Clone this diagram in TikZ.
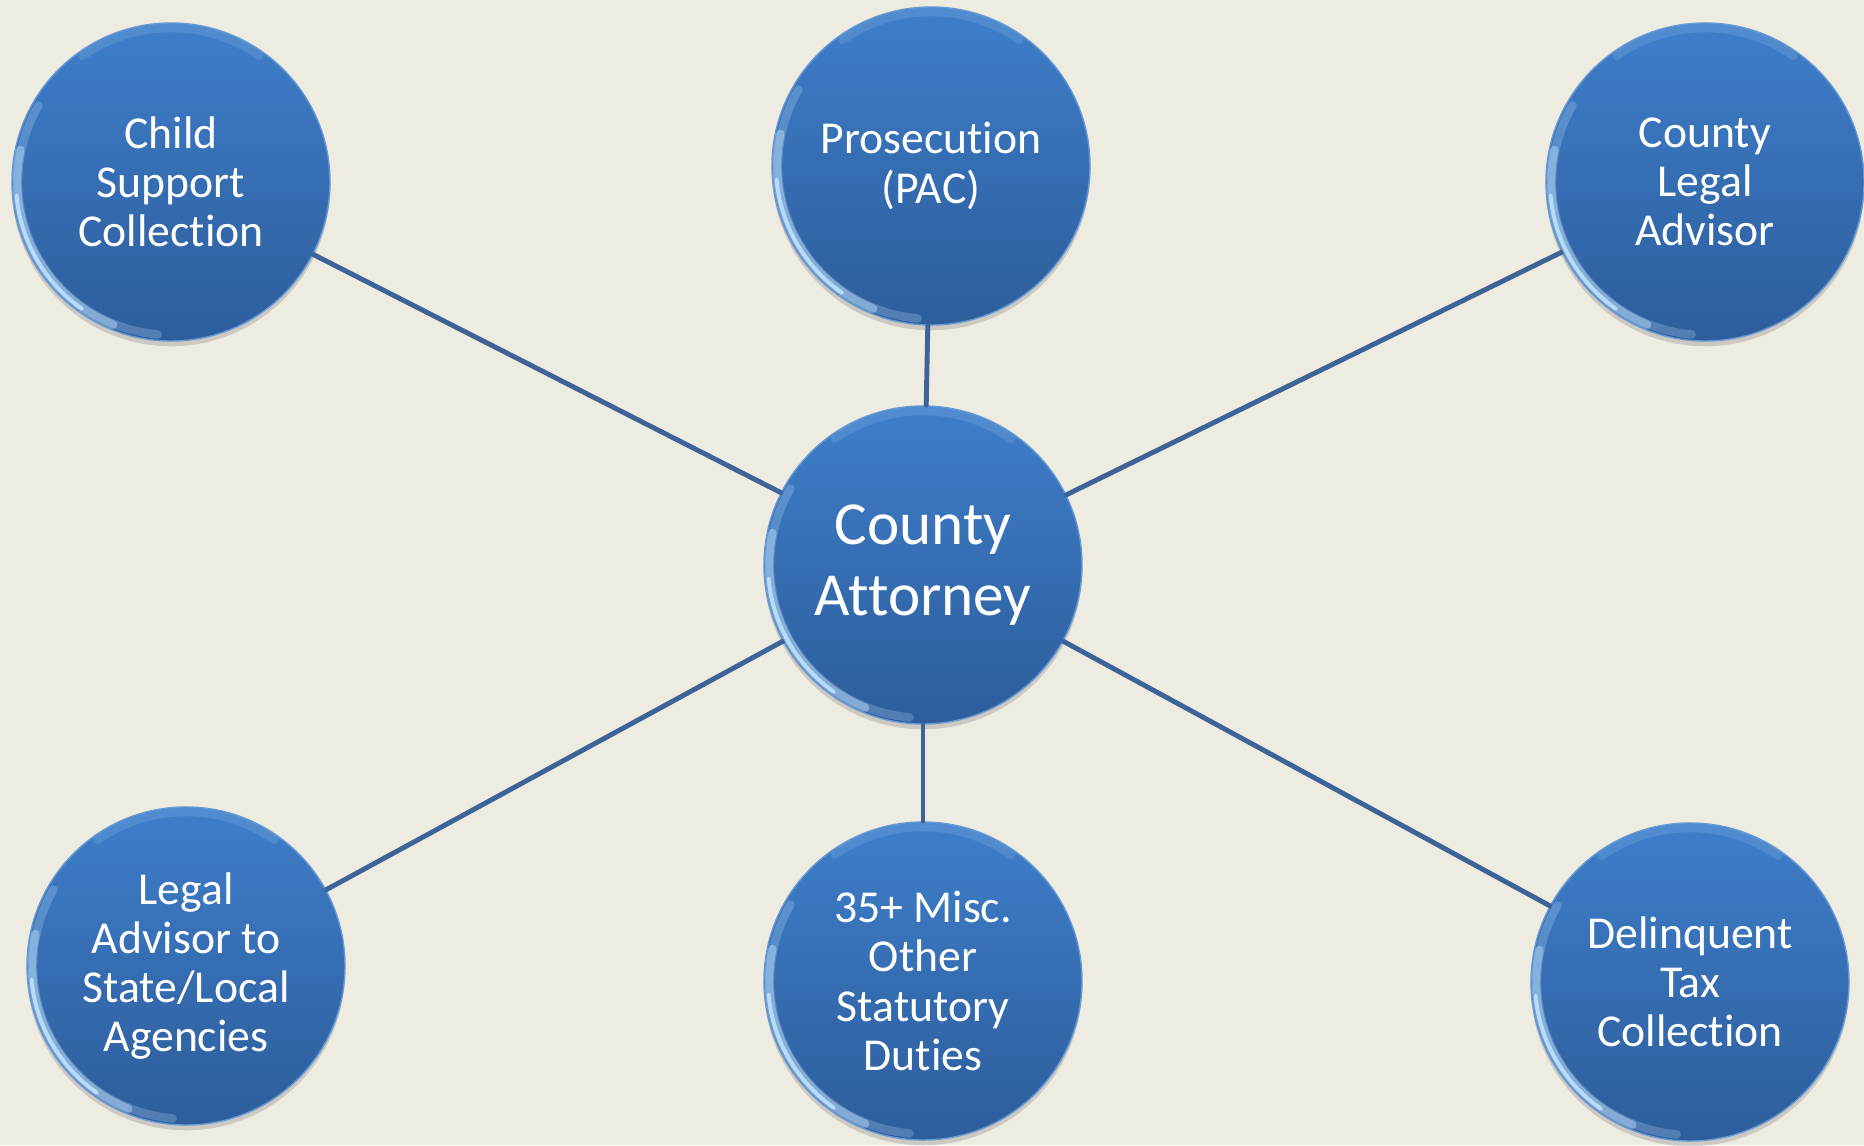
\documentclass[tikz,border=0pt]{standalone}
\usepackage{fontspec}
\setmainfont{Carlito}[Ligatures=NoCommon]
\usepackage{tikz}
\usetikzlibrary{shadows}

\definecolor{paper}{RGB}{238,235,224}
\definecolor{balltop}{RGB}{62,126,202}
\definecolor{ballbot}{RGB}{45,93,155}
\definecolor{spoke}{RGB}{60,100,152}
\definecolor{rimlight}{RGB}{190,225,252}

\begin{document}
\begin{tikzpicture}[line cap=round, line join=round,
    ball/.style={circle, minimum size=3.18cm, inner sep=0pt,
      top color=balltop, bottom color=ballbot, draw=balltop!80!white,
      line width=0.4pt, text=white, align=center,
      font=\fontsize{13}{14}\selectfont,
      drop shadow={shadow xshift=0pt, shadow yshift=-1.5pt,
        opacity=0.25, fill=black!60}},
    bigball/.style={ball, font=\fontsize{17.4}{20.2}\selectfont},
    spokeline/.style={draw=spoke, line width=1.4pt},
    rim/.style={draw=rimlight, line width=1.1pt, opacity=0.9},
    rimsoft/.style={draw=rimlight, line width=2.4pt, opacity=0.25}]
\fill [paper] (0,0) rectangle (18.64,11.45);
\useasboundingbox (0,0) rectangle (18.64,11.45);

\node [bigball] (ca)  at (9.23,5.80)  {County\\Attorney};
\node [ball]    (cs)  at (1.71,9.63)  {Child\\Support\\Collection};
\node [ball]    (pac) at (9.31,9.79)  {Prosecution\\(PAC)};
\node [ball]    (cla) at (17.05,9.63) {County\\Legal\\Advisor};
\node [ball]    (la)  at (1.86,1.79)  {Legal\\Advisor to\\State/Local\\Agencies};
\node [ball]    (md)  at (9.23,1.64)  {35+ Misc.\\Other\\Statutory\\Duties};
\node [ball]    (dt)  at (16.90,1.63) {Delinquent\\Tax\\Collection};

\foreach \n in {cs,pac,cla,la,md,dt}
\draw [spokeline] (ca) -- (\n);

\foreach \n in {ca,cs,pac,cla,la,md,dt} {
\draw [rimsoft] (\n.center) ++(150:1.53) arc (150:265:1.53);
\draw [rimsoft, opacity=0.45] (\n.center) ++(168:1.54) arc (168:248:1.54);
\draw [rim] (\n.center) ++(185:1.55) arc (185:235:1.55);
\draw [rimsoft, opacity=0.15] (\n.center) ++(55:1.54) arc (55:125:1.54);
}
\end{tikzpicture}
\end{document}
